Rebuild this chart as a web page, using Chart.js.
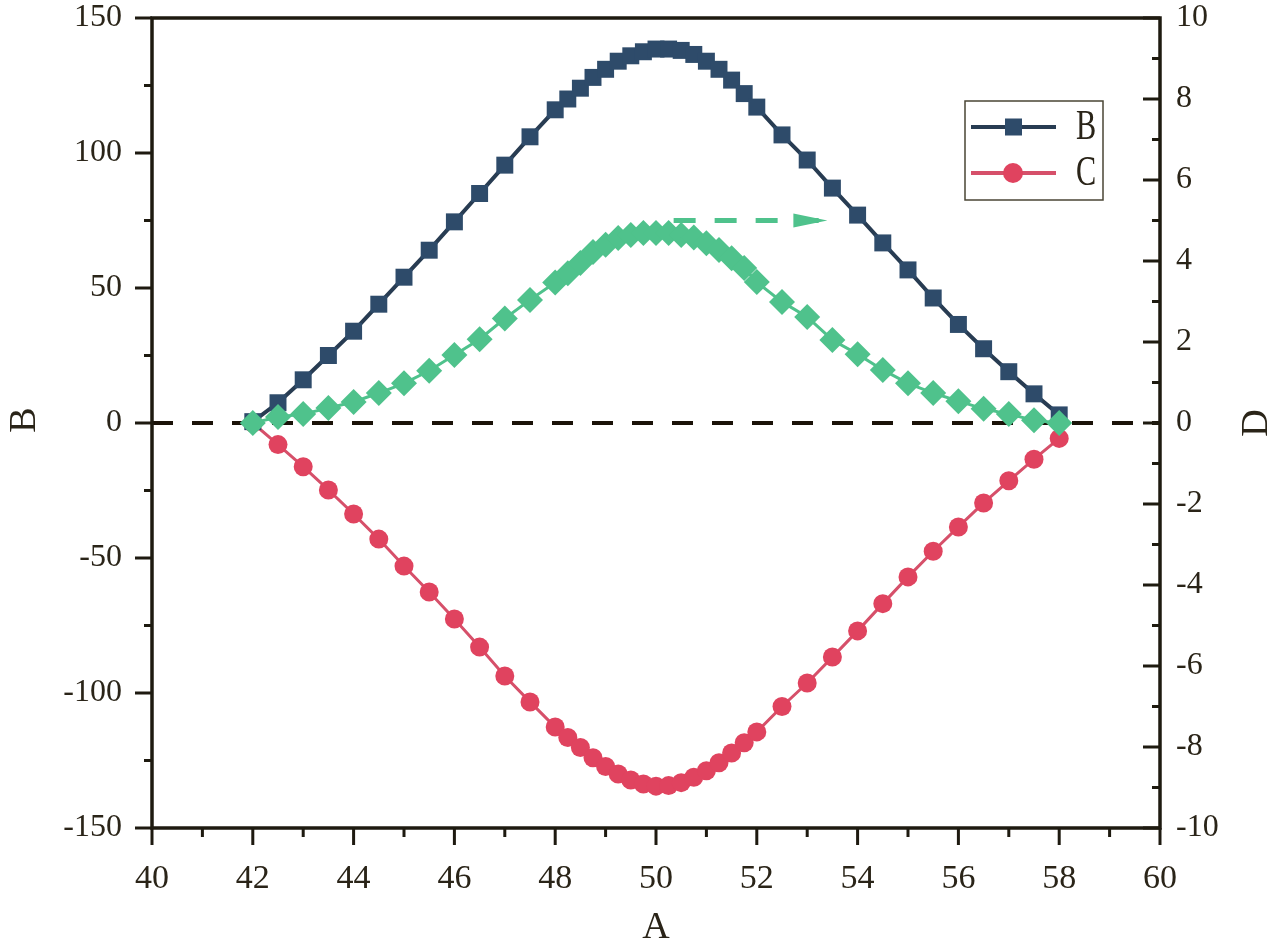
<!DOCTYPE html>
<html>
<head>
<meta charset="utf-8">
<script src="https://cdn.jsdelivr.net/npm/chart.js@4.4.1/dist/chart.umd.min.js"></script>
<style>
  body { margin: 0; background: #fff; }
  #wrap { width: 1280px; height: 946px; }
</style>
</head>
<body>
<div id="wrap"><canvas id="myChart"></canvas></div>
<script>
// x positions (A) shared by all three series
const aValues = [42, 42.5, 43, 43.5, 44, 44.5, 45, 45.5, 46, 46.5, 47, 47.5,
  48, 48.25, 48.5, 48.75, 49, 49.25, 49.5, 49.75, 50, 50.25, 50.5, 50.75,
  51, 51.25, 51.5, 51.75, 52, 52.5, 53, 53.5, 54, 54.5, 55, 55.5, 56, 56.5, 57, 57.5, 58]

const bValues = [0.5, 7.5, 16, 25, 34, 44, 54, 64, 74.5, 85, 95.5, 106,
  116, 120, 124, 128, 131, 134, 136, 137.5, 138.5, 138.5, 138, 136.5,
  134, 131, 127, 122, 117, 106.7, 97.4, 87, 77, 66.7, 56.7, 46.3, 36.5, 27.5, 19, 10.8, 3]

const cValues = [0, -8, -16.2, -24.8, -33.7, -43, -53, -62.6, -72.6, -83, -93.7, -103.3,
  -112.6, -116.5, -120.2, -124, -127.2, -130, -132.2, -133.7, -134.5, -134.3, -133.2, -131.2,
  -128.8, -125.8, -122.2, -118.4, -114.4, -105, -96.3, -86.7, -77, -66.9, -57, -47.5, -38.5, -29.6, -21.4, -13.4, -5.7]

// D is read against the right axis
const dValues = [0, 0.15, 0.22, 0.37, 0.52, 0.74, 0.98, 1.29, 1.68, 2.07, 2.58, 3.04,
  3.47, 3.7, 3.95, 4.22, 4.4, 4.57, 4.64, 4.69, 4.69, 4.69, 4.64, 4.58,
  4.44, 4.27, 4.07, 3.83, 3.48, 2.99, 2.62, 2.05, 1.7, 1.31, 0.98, 0.74, 0.54, 0.35, 0.22, 0.07, 0]

const zeroX = [40, 60]
const zeroY = [0, 0]
const arrowX = [50.35, 53.4]
const arrowY = [5, 5]

const xTicks = [40, 42, 44, 46, 48, 50, 52, 54, 56, 58, 60]
const leftTicks = [-150, -100, -50, 0, 50, 100, 150]
const rightTicks = [-10, -8, -6, -4, -2, 0, 2, 4, 6, 8, 10]

const colB = '#2e4b6a', lineB = '#283c52'
const colC = '#e0435f', lineC = '#d6506a'
const colD = '#4fc28c'
const ink = '#1e1a10'
const serif = '"Liberation Serif", "DejaVu Serif", serif'

const pts = (xs, ys) => xs.map((x, i) => ({ x, y: ys[i] }))

// no extra room for half labels, the frame sits at fixed spots
const noPad = (s) => { s.paddingTop = 0; s.paddingBottom = 0; s.paddingLeft = 0; s.paddingRight = 0 }

// ticks, frame, titles, legend and arrow head
const decor = {
  id: 'decor',
  afterDraw(chart) {
    const { ctx, chartArea: a, scales } = chart
    ctx.save()
    ctx.strokeStyle = ink
    ctx.lineWidth = 3.5
    ctx.strokeRect(a.left, a.top, a.right - a.left, a.bottom - a.top)

    ctx.lineWidth = 3
    ctx.beginPath()
    for (let v = 40; v <= 60; v++) {
      const px = scales.x.getPixelForValue(v)
      ctx.moveTo(px, a.bottom)
      ctx.lineTo(px, a.bottom + (xTicks.includes(v) ? 17 : 9))
    }
    for (let v = -150; v <= 150; v += 25) {
      const py = scales.y.getPixelForValue(v)
      ctx.moveTo(a.left, py)
      ctx.lineTo(a.left - (leftTicks.includes(v) ? 17 : 8), py)
    }
    for (let v = -10; v <= 10; v++) {
      const py = scales.y2.getPixelForValue(v)
      ctx.moveTo(a.right, py)
      ctx.lineTo(a.right - (rightTicks.includes(v) ? 17 : 8), py)
    }
    ctx.stroke()

    // axis titles
    ctx.fillStyle = '#2a2418'
    ctx.font = '38px ' + serif
    ctx.textAlign = 'center'
    ctx.textBaseline = 'middle'
    ctx.fillText('A', (a.left + a.right) / 2, 928)
    ctx.save(); ctx.translate(25, 420); ctx.rotate(-Math.PI / 2); ctx.fillText('B', 0, 0); ctx.restore()
    ctx.save(); ctx.translate(1257, 423); ctx.rotate(-Math.PI / 2); ctx.fillText('D', 0, 0); ctx.restore()

    // arrow head at the end of the dashed arrow
    const arrowMeta = chart.getDatasetMeta(4)
    const tip = arrowMeta.data[1]
    ctx.fillStyle = colD
    ctx.beginPath()
    ctx.moveTo(tip.x, tip.y)
    ctx.lineTo(tip.x - 34, tip.y - 7)
    ctx.lineTo(tip.x - 34, tip.y + 7)
    ctx.closePath()
    ctx.fill()

    // legend
    ctx.strokeStyle = '#4a4535'
    ctx.lineWidth = 1.5
    ctx.strokeRect(965, 101, 138, 99)
    const rows = [['B', lineB, colB, 'rect', 127], ['C', lineC, colC, 'circle', 173]]
    rows.forEach(([name, lc, mc, shape, y]) => {
      ctx.strokeStyle = lc
      ctx.lineWidth = 4
      ctx.beginPath(); ctx.moveTo(971, y); ctx.lineTo(1056, y); ctx.stroke()
      ctx.fillStyle = mc
      if (shape === 'rect') ctx.fillRect(1005, y - 8.5, 17, 17)
      else { ctx.beginPath(); ctx.arc(1013, y, 10, 0, Math.PI * 2); ctx.fill() }
      ctx.fillStyle = '#2a2418'
      ctx.font = '42px ' + serif
      ctx.textAlign = 'left'
      ctx.save(); ctx.translate(1076, y + 1); ctx.scale(0.72, 1); ctx.fillText(name, 0, 0); ctx.restore()
    })
    ctx.restore()
  }
}

const ctx = document.getElementById('myChart').getContext('2d')
new Chart(ctx, {
  type: 'line',
  data: {
    datasets: [
      {
        label: 'D', data: pts(aValues, dValues), yAxisID: 'y2', order: 0,
        borderColor: colD, borderWidth: 3, pointStyle: 'rectRot', pointRadius: 13,
        backgroundColor: colD, pointBorderWidth: 0
      },
      {
        label: 'B', data: pts(aValues, bValues), yAxisID: 'y', order: 1,
        borderColor: lineB, borderWidth: 4, pointStyle: 'rect', pointRadius: 12,
        backgroundColor: colB, pointBorderWidth: 0
      },
      {
        label: 'C', data: pts(aValues, cValues), yAxisID: 'y', order: 2,
        borderColor: lineC, borderWidth: 3, pointStyle: 'circle', pointRadius: 9.5,
        backgroundColor: colC, pointBorderWidth: 0
      },
      {
        label: 'zero', data: pts(zeroX, zeroY), yAxisID: 'y', order: 5,
        borderColor: '#1a1208', borderWidth: 4, borderDash: [21, 19], pointRadius: 0
      },
      {
        label: 'arrow', data: pts(arrowX, arrowY), yAxisID: 'y2', order: 3,
        borderColor: colD, borderWidth: 5, borderDash: [22, 19], pointRadius: 0
      }
    ]
  },
  options: {
    responsive: true,
    maintainAspectRatio: false,
    animation: false,
    layout: { padding: { top: 18, left: 0, right: 0, bottom: 0 } },
    elements: { line: { tension: 0 } },
    plugins: { legend: { display: false }, tooltip: { enabled: false } },
    scales: {
      x: {
        type: 'linear', min: 40, max: 60, position: 'bottom',
        afterFit: (s) => { s.height = 118; noPad(s) },
        grid: { display: false, drawTicks: false }, border: { display: false },
        afterBuildTicks: (s) => { s.ticks = xTicks.map(v => ({ value: v })) },
        ticks: { autoSkip: false, maxRotation: 0, padding: 31, color: '#2a2418', font: { family: serif, size: 34 } }
      },
      y: {
        type: 'linear', min: -150, max: 150, position: 'left',
        afterFit: (s) => { s.width = 152; noPad(s) },
        grid: { display: false, drawTicks: false }, border: { display: false },
        afterBuildTicks: (s) => { s.ticks = leftTicks.map(v => ({ value: v })) },
        ticks: { padding: 30, color: '#2a2418', font: { family: serif, size: 32 } }
      },
      y2: {
        type: 'linear', min: -10, max: 10, position: 'right',
        afterFit: (s) => { s.width = 120; noPad(s) },
        grid: { display: false, drawTicks: false }, border: { display: false },
        afterBuildTicks: (s) => { s.ticks = rightTicks.map(v => ({ value: v })) },
        ticks: { padding: 16, color: '#2a2418', font: { family: serif, size: 32 } }
      }
    }
  },
  plugins: [decor]
})
</script>
</body>
</html>
